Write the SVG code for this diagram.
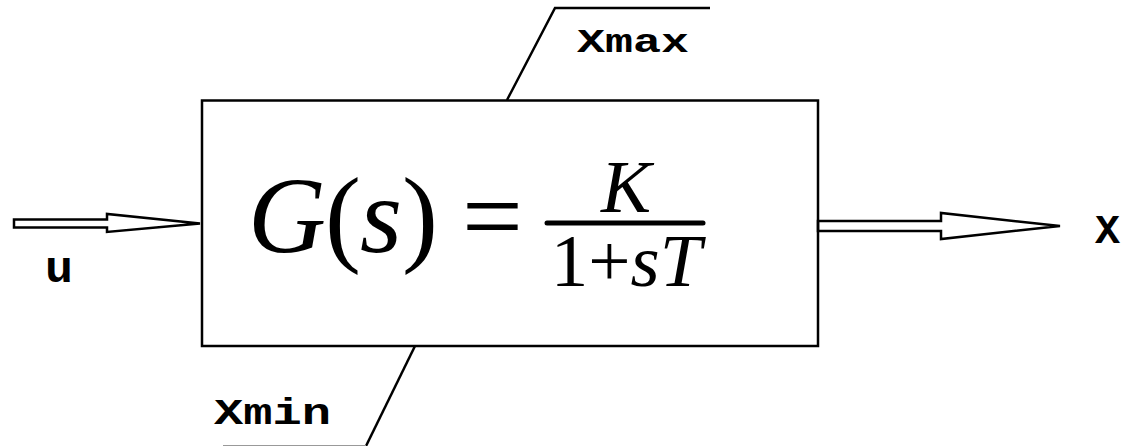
<svg xmlns="http://www.w3.org/2000/svg" width="1124" height="446" viewBox="0 0 1124 446">
<style>
.ln{fill:none;stroke:#000;stroke-width:2.5}
.arr{fill:#fff;stroke:#000;stroke-width:2.5;stroke-linejoin:miter}
.mono{font-family:"Liberation Mono","Courier New",monospace;font-weight:bold;fill:#000}
.tm{font-family:"Liberation Serif","Times New Roman",serif;fill:#000}
.it{font-style:italic}
</style>
<rect width="1124" height="446" fill="#fff"/>
<g id="connectors">
<polygon class="arr" points="14,219.5 107,219.5 107,214 200,223.5 107,232 107,227.5 14,227.5"/>
<polygon class="arr" points="818,221 941,221 941,213 1060,226 941,239 941,231 818,231"/>
<polyline class="ln" points="507,100 555,8 710,8"/>
<polyline class="ln" points="415,346 366,446"/>
<line x1="223" y1="445.5" x2="366" y2="445.5" stroke="#999" stroke-width="1"/>
</g>
<g id="block">
<rect x="202" y="100.5" width="616" height="245.5" class="ln"/>
<text class="tm it" x="248" y="252" font-size="108">G</text>
<text class="tm" x="325" y="252" font-size="108">(</text>
<text class="tm it" x="360" y="252" font-size="108">s</text>
<text class="tm" x="402" y="252" font-size="108">)</text>
<text class="tm" x="462" y="252" font-size="108">=</text>
<line x1="547" y1="223" x2="703" y2="223" stroke="#000" stroke-width="5" stroke-linecap="round"/>
<text class="tm it" x="626" y="212" font-size="75" text-anchor="middle">K</text>
<text class="tm" x="626" y="286" font-size="75" text-anchor="middle">1+<tspan class="it">sT</tspan></text>
</g>
<g id="label-u"><text class="mono" x="45" y="282" font-size="44" textLength="28" lengthAdjust="spacingAndGlyphs">u</text></g>
<g id="label-x"><text class="mono" x="1095" y="243" font-size="40" textLength="25" lengthAdjust="spacingAndGlyphs">X</text></g>
<g id="label-xmax"><text class="mono" x="577" y="52" font-size="33" textLength="112" lengthAdjust="spacingAndGlyphs">Xmax</text></g>
<g id="label-xmin"><text class="mono" x="214" y="424" font-size="37" textLength="117" lengthAdjust="spacingAndGlyphs">Xmin</text></g>
</svg>
